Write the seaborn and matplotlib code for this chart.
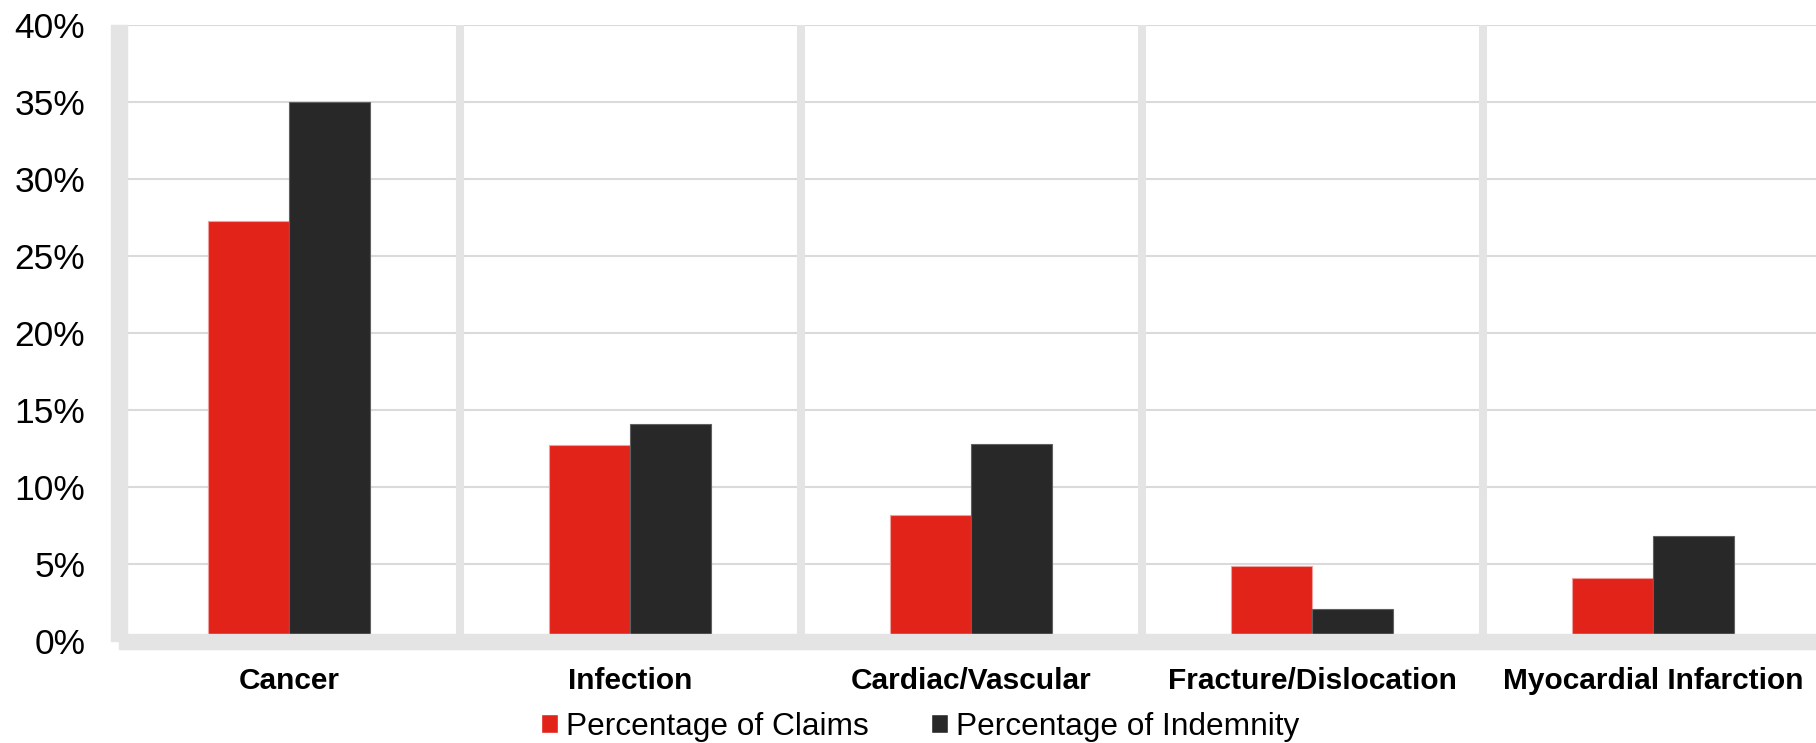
import pandas as pd
import seaborn as sns
import matplotlib.pyplot as plt
from matplotlib.patches import Rectangle
from matplotlib.ticker import MultipleLocator, FuncFormatter

# dados (em %)
categories = ["Cancer", "Infection", "Cardiac/Vascular", "Fracture/Dislocation", "Myocardial Infarction"]
claims = [27.3, 12.7, 8.2, 4.9, 4.1]
indemnity = [35.0, 14.1, 12.8, 2.1, 6.8]
series_names = ["Percentage of Claims", "Percentage of Indemnity"]
colors = ["#E2231A", "#282828"]

df = pd.DataFrame({"category": categories, series_names[0]: claims, series_names[1]: indemnity})
df = df.melt(id_vars="category", var_name="series", value_name="value")

sns.set_style("white")
plt.rcParams["font.family"] = ["Liberation Sans", "DejaVu Sans"]
plt.rcParams["text.color"] = "black"
plt.rcParams["xtick.color"] = "black"
plt.rcParams["ytick.color"] = "black"

W, H = 1816, 743
fig = plt.figure(figsize=(W / 100, H / 100), dpi=100)
ax = fig.add_axes([118.5 / W, (H - 641) / H, 1705 / W, 616 / H])

sns.barplot(data=df, x="category", y="value", hue="series", palette=colors,
            width=0.475, saturation=1, ax=ax, errorbar=None)

# bordas finas nas barras
for cont, ec in zip(ax.containers, ["#F0A09C", "#606060"]):
    for bar in cont:
        bar.set_edgecolor(ec)
        bar.set_linewidth(0.8)

ax.set_xlim(-0.5, 4.5)
ax.set_ylim(0, 40)
ax.yaxis.set_major_locator(MultipleLocator(5))
ax.yaxis.set_major_formatter(FuncFormatter(lambda v, p: f"{v:.0f}%"))
ax.yaxis.grid(True, color="#DADADA", linewidth=1.5)
ax.set_axisbelow(True)

# separadores cinza entre categorias
for x in [0.5, 1.5, 2.5, 3.5]:
    ax.axvline(x, color="#E4E4E4", linewidth=5.8, zorder=1)

for s in ax.spines.values():
    s.set_visible(False)
ax.tick_params(length=0, colors="black")
ax.tick_params(axis="x", labelsize=21.5, pad=19)
ax.tick_params(axis="y", labelsize=25.5, pad=24)
for lbl in ax.get_xticklabels():
    lbl.set_fontweight("bold")
ax.set_xlabel("")
ax.set_ylabel("")

# parede e piso cinza
fig.add_artist(Rectangle((111 / W, (H - 641) / H), 16 / W, 616 / H,
                         transform=fig.transFigure, color="#E4E4E4", zorder=3))
fig.add_artist(Rectangle((119 / W, (H - 649) / H), (W - 119) / W, 15 / H,
                         transform=fig.transFigure, color="#E4E4E4", zorder=3))

handles, labels = ax.get_legend_handles_labels()
ax.get_legend().remove()
fig.legend(handles, labels, loc="center", bbox_to_anchor=(920 / W, 1 - 727 / H), ncol=2,
           frameon=False, fontsize=22.8, handlelength=0.55, handleheight=0.55,
           handletextpad=0.25, columnspacing=1.95, labelcolor="black")

fig.savefig("out.png", dpi=100)
